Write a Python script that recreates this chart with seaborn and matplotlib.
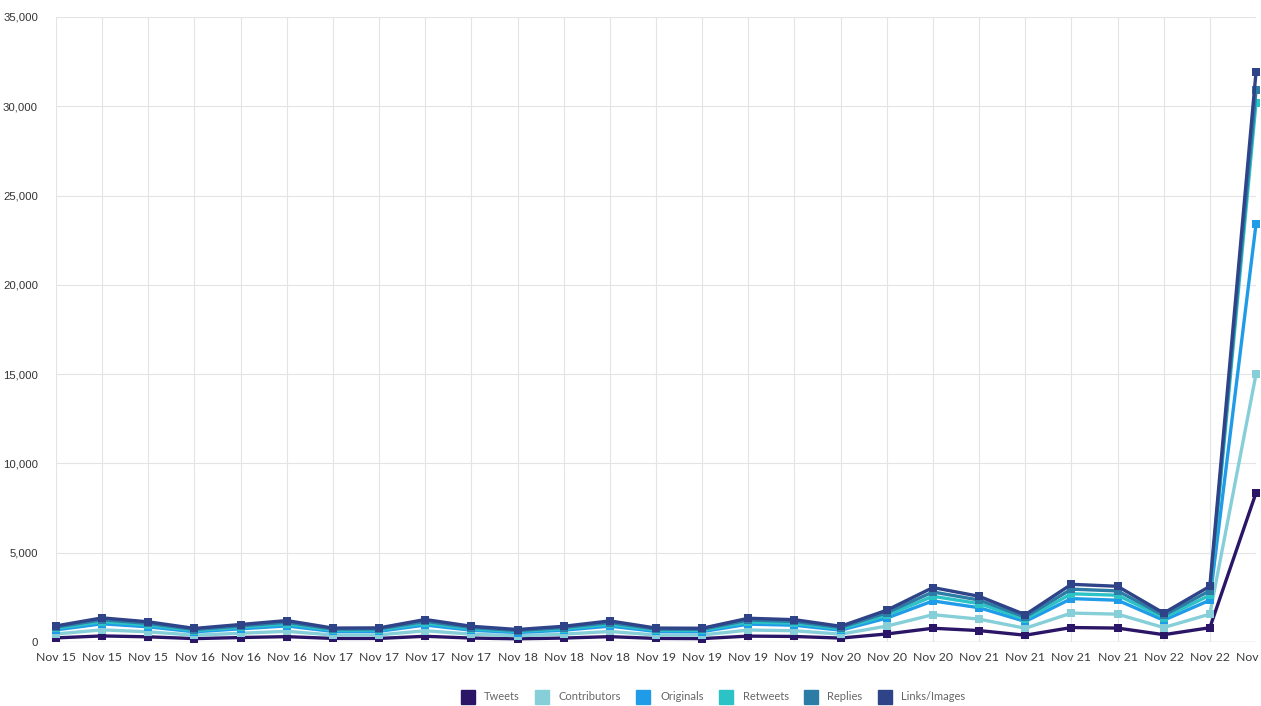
import numpy as np
import pandas as pd
import matplotlib
matplotlib.use('Agg')
import matplotlib.pyplot as plt
from matplotlib.lines import Line2D
import seaborn as sns

# x-axis labels (one per data point)
labels = ['Nov 15', 'Nov 15', 'Nov 15', 'Nov 16', 'Nov 16', 'Nov 16',
          'Nov 17', 'Nov 17', 'Nov 17', 'Nov 17', 'Nov 18', 'Nov 18',
          'Nov 18', 'Nov 19', 'Nov 19', 'Nov 19', 'Nov 19', 'Nov 20',
          'Nov 20', 'Nov 20', 'Nov 21', 'Nov 21', 'Nov 21', 'Nov 21',
          'Nov 22', 'Nov 22', 'Nov 22']

tweets = [230, 340, 290, 190, 250, 300, 200, 200, 320, 220, 180, 220, 300, 200,
          190, 330, 310, 220, 450, 770, 640, 380, 810, 780, 410, 800, 8350]
contributors = [450, 680, 570, 380, 490, 600, 390, 400, 630, 440, 350, 440, 590, 390,
                390, 670, 630, 440, 890, 1530, 1280, 770, 1620, 1560, 810, 1560, 15000]
originals = [680, 1020, 850, 570, 740, 900, 590, 600, 950, 660, 530, 660, 890, 590,
             580, 1000, 940, 660, 1340, 2300, 1920, 1150, 2430, 2340, 1220, 2340, 23400]
retweets = [760, 1140, 950, 640, 830, 1010, 660, 670, 1060, 740, 590, 740, 1000, 660,
            650, 1120, 1050, 740, 1500, 2560, 2150, 1280, 2700, 2620, 1360, 2620, 30200]
replies = [830, 1250, 1040, 700, 900, 1110, 720, 730, 1160, 810, 640, 810, 1090, 720,
           710, 1230, 1150, 810, 1640, 2800, 2350, 1400, 2960, 2860, 1490, 2870, 30900]
links = [900, 1350, 1130, 760, 980, 1200, 780, 790, 1260, 880, 700, 880, 1180, 780,
         770, 1330, 1250, 880, 1780, 3050, 2560, 1530, 3230, 3120, 1620, 3120, 31900]

series = {
    'Tweets': (tweets, '#2b1567'),
    'Contributors': (contributors, '#86cfd8'),
    'Originals': (originals, '#1f9be8'),
    'Retweets': (retweets, '#2cc3c6'),
    'Replies': (replies, '#2c7ca5'),
    'Links/Images': (links, '#2e4388'),
}

sns.set_style('white')
plt.rcParams['font.family'] = ['Lato', 'DejaVu Sans']

W, H = 1261, 706
fig = plt.figure(figsize=(W / 100, H / 100), dpi=100)
ax = fig.add_axes([56 / W, (H - 642) / H, (1256 - 56) / W, (642 - 17) / H])

x = np.arange(len(labels))
for name, (vals, col) in series.items():
    df = pd.DataFrame({'x': x, 'y': vals})
    sns.lineplot(data=df, x='x', y='y', ax=ax, color=col, linewidth=2.4,
                 marker='s', markersize=6, markeredgewidth=0, clip_on=False)

ax.set_xlim(0, len(labels) - 1)
ax.set_ylim(0, 35000)
ax.set_xticks(x)
ax.set_xticklabels(labels, fontsize=8.8, color='#3a3a3a')
ax.set_yticks(np.arange(0, 35001, 5000))
ax.set_yticklabels([f'{v:,}' for v in range(0, 35001, 5000)], fontsize=8.2,
                   color='#333333', family='Liberation Sans')
ax.set_xlabel('')
ax.set_ylabel('')
ax.grid(True, color='#e4e4e4', linewidth=0.8)
ax.set_axisbelow(True)
for s in ax.spines.values():
    s.set_visible(False)
ax.axhline(0, color='#c8c8c8', linewidth=1, zorder=0.5)
ax.tick_params(axis='y', length=5, color='#dcdcdc', pad=8)
ax.tick_params(axis='x', length=0, pad=7)

handles = [Line2D([], [], marker='s', linestyle='none', markersize=10, color=c)
           for _, c in series.values()]
fig.legend(handles, list(series.keys()), loc='center', ncol=6,
           bbox_to_anchor=(711 / W, (H - 697) / H), frameon=False,
           fontsize=8, labelcolor='#666666', handletextpad=0.5, columnspacing=1.0)

fig.savefig('out.png', dpi=100)
